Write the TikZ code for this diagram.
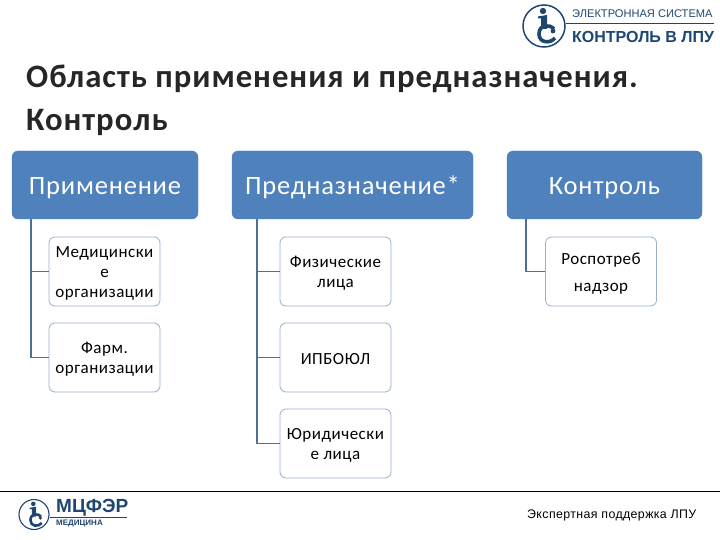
\documentclass[tikz,border=0pt]{standalone}
\usepackage{fontspec}
\setmainfont{Carlito}[LetterSpace=3]
\newfontfamily\logofont{Liberation Sans}
\newfontfamily\footfont{Liberation Sans}[LetterSpace=3]
\usepackage{tikz}
\usetikzlibrary{calc}
\definecolor{headblue}{HTML}{4F81BD}
\definecolor{linkblue}{HTML}{4F6F96}
\definecolor{edgeblue}{HTML}{98B0CD}
\definecolor{logonavy}{HTML}{1F4573}
\newcommand{\leafgap}{\rule{0pt}{15pt}}
\tikzset{
  headbox/.style={draw=headblue, fill=headblue, rounded corners=6pt, minimum height=68pt,
    text=white, inner sep=0pt, text height=21pt, text depth=2pt, font=\fontsize{26.5}{30}\selectfont},
  leafbox/.style={draw=edgeblue, line width=0.8pt, fill=white, rounded corners=6pt, minimum width=111pt,
    minimum height=69pt, inner sep=0pt, align=center, font=\fontsize{17}{20}\selectfont},
  link/.style={draw=linkblue, line width=1.8pt},
  crest/.style={draw=logonavy, line width=1.5pt, circle, inner sep=0pt},
  crestic/.pic={
    % letters of the round mark, drawn as shapes
    \fill[logonavy] (-1,-15) circle (3.2);
    \fill[logonavy] (-6,-9.5) -- (3,-11) -- (3,3) -- (-3,3) -- (-3,-7.5) -- (-6,-7.5) -- cycle;
    \draw[logonavy, line width=#1] (10,3) .. controls (6,-2) and (-5,-2) .. (-5,8)
      .. controls (-5,17) and (6,18) .. (11,12);
    \fill[logonavy] (9,5) circle (2.4);
  }
}
\begin{document}
\begin{tikzpicture}[x=1pt, y=-1pt]
  \useasboundingbox (0,0) rectangle (720,540);
  % title
  \node[anchor=north west, inner sep=0pt, align=left, font=\bfseries\fontsize{32.7}{43}\selectfont, text=black!85] (title) at (26,65)
    {Область применения и предназначения.\\Контроль};
  % top row
  \node[headbox, minimum width=186pt] (apply) at (105,185) {Применение};
  \node[headbox, minimum width=241pt] (purpose) at (352.5,185) {Предназначение*};
  \node[headbox, minimum width=195pt] (control) at (604.5,185) {Контроль};
  % children
  \node[leafbox] (medorg) at (104.5,271.5) {\leafgap Медицински\\е\\организации};
  \node[leafbox] (pharm) at (104.5,357.5) {\leafgap Фарм.\\организации};
  \node[leafbox] (persons) at (335.5,271.5) {\leafgap Физические\\лица};
  \node[leafbox] (ipboul) at (335.5,357.5) {\leafgap ИПБОЮЛ};
  \node[leafbox] (legal) at (335.5,443.5) {\leafgap Юридически\\е лица};
  \node[leafbox, font=\fontsize{17}{27}\selectfont] (rospo) at (601,271.5) {\leafgap Роспотреб\\надзор};
  % spines
  \coordinate (spineA) at (31,200);
  \coordinate (spineB) at (257,200);
  \coordinate (spineC) at (526,200);
  \draw[link] (spineA |- apply.south) -- (spineA |- pharm.west) -- (pharm.west);
  \draw[link] (spineA |- medorg.west) -- (medorg.west);
  \draw[link] (spineB |- purpose.south) -- (spineB |- legal.west) -- (legal.west);
  \draw[link] (spineB |- persons.west) -- (persons.west);
  \draw[link] (spineB |- ipboul.west) -- (ipboul.west);
  \draw[link] (spineC |- control.south) -- (spineC |- rospo.west) -- (rospo.west);
  % top logo
  \node[crest, minimum size=42pt] (crestA) at (544,26) {};
  \pic (crestAic) at (crestA.center) {crestic=3.6pt};
  \node[anchor=west, inner sep=0pt, text=logonavy, font=\logofont\fontsize{11.1}{12}\selectfont] (sysname) at (572,14) {ЭЛЕКТРОННАЯ СИСТЕМА};
  \node[anchor=west, inner sep=0pt, text=logonavy, font=\logofont\bfseries\fontsize{16}{17}\selectfont] (ctrlname) at (572,37) {КОНТРОЛЬ В ЛПУ};
  \coordinate (ruleA) at (714,24);
  \draw[logonavy, line width=1pt] (crestA.east |- ruleA) -- (ruleA);
  % footer
  \coordinate (footL) at (0,491);
  \coordinate (footR) at (720,491);
  \draw[black, line width=0.8pt] (footL) -- (footR);
  \node[crest, line width=1.1pt, minimum size=30pt] (crestB) at (34,514.5) {};
  \pic[scale=0.71] (crestBic) at (crestB.center) {crestic=2.6pt};
  \node[anchor=west, inner sep=0pt, text=logonavy, font=\logofont\bfseries\fontsize{19}{19}\selectfont] (mcfer) at (56,507.5) {МЦФЭР};
  \coordinate (ruleB) at (127,517);
  \draw[logonavy, line width=0.7pt] (crestB.east |- ruleB) -- (ruleB);
  \node[anchor=west, inner sep=0pt, text=logonavy, font=\logofont\bfseries\fontsize{8}{9}\selectfont] (medname) at (56,524) {МЕДИЦИНА};
  \node[anchor=west, inner sep=0pt, font=\footfont\fontsize{12.4}{13}\selectfont] (support) at (527,515) {Экспертная поддержка ЛПУ};
\end{tikzpicture}
\end{document}
